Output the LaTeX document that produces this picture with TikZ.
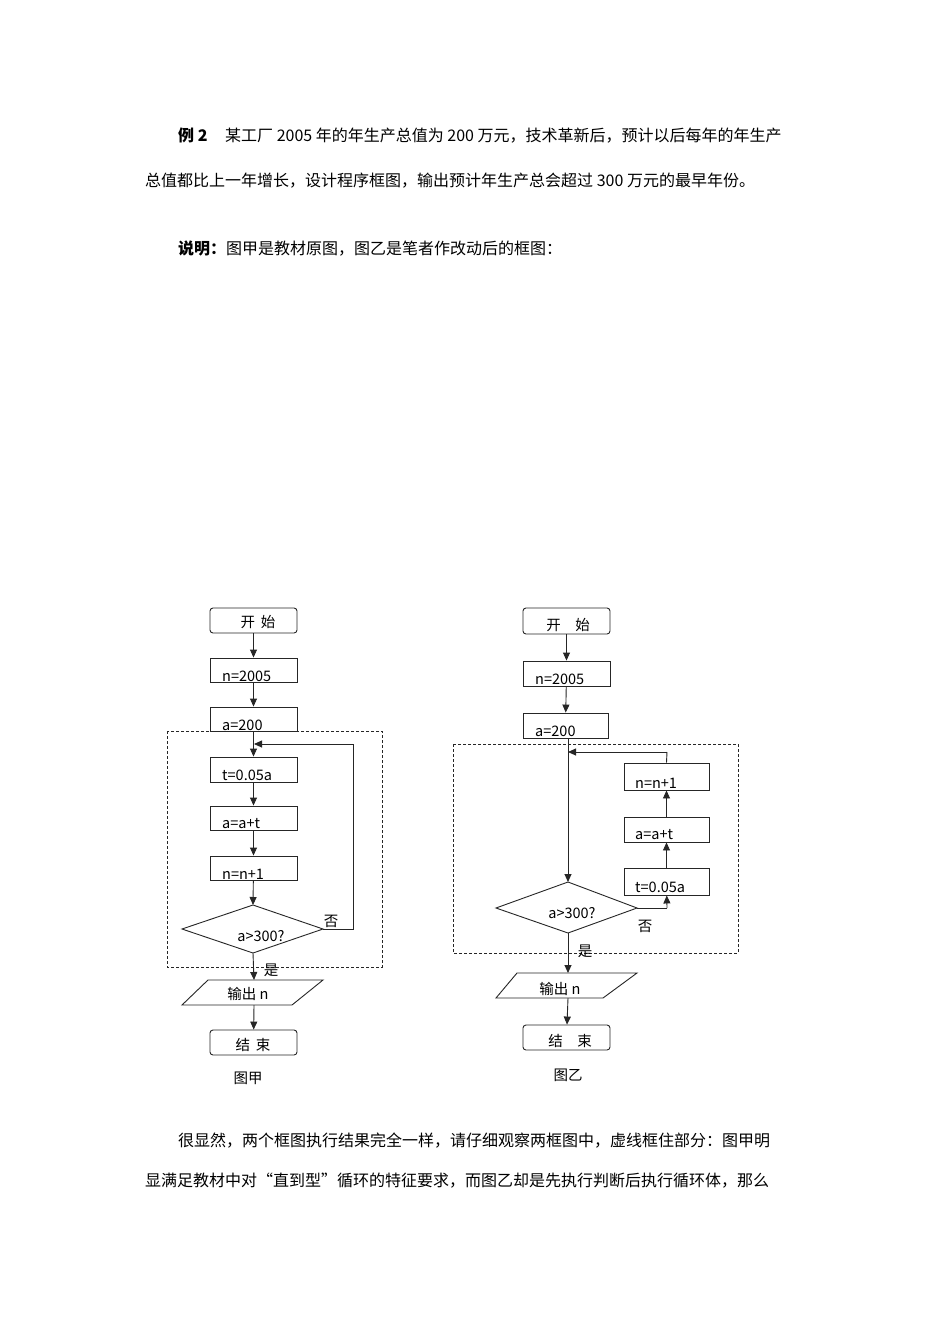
\documentclass[tikz,border=0pt]{standalone}
\usepackage{fontspec}
\setmainfont{Liberation Serif}
\setsansfont{Liberation Sans}
\newfontfamily\cjk{Noto Sans CJK SC}
\usetikzlibrary{arrows.meta,shapes.geometric}
\begin{document}
\begin{tikzpicture}[x=1pt,y=-1pt,
  txt/.style={font=\cjk\fontsize{16}{18}\selectfont,anchor=base west,inner sep=0pt},
  lab/.style={font=\cjk\fontsize{14.5}{16}\selectfont,inner sep=0pt},
  ln/.style={draw=black!85,line width=0.9pt},
  arr/.style={ln,-{Triangle[length=8pt,width=7pt]}},
  dsh/.style={draw=black!85,line width=0.7pt,dash pattern=on 3pt off 2pt}]
\fill[white] (0,0) rectangle (950,1344);
\useasboundingbox (0,0) rectangle (950,1344);
% text
\node[txt] (p1) at (178,141) {\textbf{例 2}\hspace{1.1em}某工厂 2005 年的年生产总值为 200 万元，技术革新后，预计以后每年的年生产};
\node[txt] (p2) at (145,186) {总值都比上一年增长，设计程序框图，输出预计年生产总会超过 300 万元的最早年份。};
\node[txt] (p3) at (178,254) {\textbf{说明：}图甲是教材原图，图乙是笔者作改动后的框图：};
\node[txt] (p4) at (178,1146) {很显然，两个框图执行结果完全一样，请仔细观察两框图中，虚线框住部分：图甲明};
\node[txt] (p5) at (145,1186) {显满足教材中对“直到型”循环的特征要求，而图乙却是先执行判断后执行循环体，那么};
% ===== left chart
\draw[dsh] (167,731) rectangle (382,967);
\node[ln,rounded corners=3pt,minimum width=87pt,minimum height=25pt,inner sep=0pt] (Ls) at (253.5,620.5) {};
\node[lab] at (258,622) {开\,\ 始};
\node[ln,minimum width=87pt,minimum height=24pt] (L1) at (253.5,670) {};
\node[lab,anchor=west] at (222,676) {n=2005};
\node[ln,minimum width=87pt,minimum height=24pt] (L2) at (253.5,719) {};
\node[lab,anchor=west] at (222,725) {a=200};
\node[ln,minimum width=87pt,minimum height=25pt] (L3) at (253.5,769.5) {};
\node[lab,anchor=west] at (222,775) {t=0.05a};
\node[ln,minimum width=87pt,minimum height=24pt] (L4) at (253.5,818) {};
\node[lab,anchor=west] at (222,824) {a=a+t};
\node[ln,minimum width=87pt,minimum height=24pt] (L5) at (253.5,868) {};
\node[lab,anchor=west] at (222,874) {n=n+1};
\draw[ln,fill=white] (253,905) coordinate (Ldt) -- (323,929) coordinate (Ldr) -- (253,953) coordinate (Ldb) -- (182,929) -- cycle;
\node[lab] at (261,936) {a>300?};
\draw[ln] (208,980) coordinate (Lo) -- (323,980) -- (292,1005) -- (182,1005) -- cycle;
\node[lab] at (248,994) {输出 n};
\node[ln,rounded corners=3pt,minimum width=87pt,minimum height=25pt] (Le) at (253.5,1042.5) {};
\node[lab] at (253,1045) {结\,\ 束};
\node[lab] at (248,1078) {图甲};
\coordinate (Lj) at (254,744);
\draw[arr] (Ls) -- (L1);
\draw[arr] (L1) -- (L2);
\draw[arr] (L2) -- (L3);
\draw[arr] (L3) -- (L4);
\draw[arr] (L4) -- (L5);
\draw[arr] (L5) -- (Ldt);
\draw[arr] (Ldb) -- (254,980);
\draw[arr] (254,1005) -- (Le);
\draw[ln] (Ldr) -- (353,929) -- (353,744);
\draw[arr] (353,744) -- (Lj);
\node[lab] at (331,921) {否};
\node[lab] at (271,970) {是};
% ===== right chart
\draw[dsh] (453,744) rectangle (738,953);
\node[ln,rounded corners=3pt,minimum width=87pt,minimum height=26pt,inner sep=0pt] (Rs) at (566.5,621) {};
\node[lab] at (568,625) {开\quad 始};
\node[ln,minimum width=87pt,minimum height=25pt] (R1) at (566.5,673.5) {};
\node[lab,anchor=west] at (535,679) {n=2005};
\node[ln,minimum width=85pt,minimum height=25pt] (R2) at (565.5,725.5) {};
\node[lab,anchor=west] at (535,731) {a=200};
\coordinate (Rj) at (568,752);
\draw[ln,fill=white] (568,882) coordinate (Rdt) -- (637,908) coordinate (Rdr) -- (568,933) coordinate (Rdb) -- (496,908) -- cycle;
\node[lab] at (572,913) {a>300?};
\node[ln,minimum width=85pt,minimum height=27pt] (R5) at (666.5,776.5) {};
\node[lab,anchor=west] at (635,783) {n=n+1};
\node[ln,minimum width=85pt,minimum height=25pt] (R4) at (666.5,829.5) {};
\node[lab,anchor=west] at (635,835) {a=a+t};
\node[ln,minimum width=85pt,minimum height=27pt] (R3) at (666.5,881.5) {};
\node[lab,anchor=west] at (635,887) {t=0.05a};
\draw[ln] (517,973) -- (637,973) -- (603,998) -- (496,998) -- cycle;
\node[lab] at (560,989) {输出 n};
\node[ln,rounded corners=3pt,minimum width=87pt,minimum height=25pt] (Re) at (566.5,1037.5) {};
\node[lab] at (570,1041) {结\quad 束};
\node[lab] at (568,1075) {图乙};
\draw[arr] (Rs) -- (R1);
\draw[arr] (R1) -- (R2);
\draw[arr] (R2.south -| Rj) -- (Rdt);
\draw[ln] (Rdr) -- (667,908);
\draw[arr] (667,908) -- (R3);
\draw[arr] (R3) -- (R4);
\draw[arr] (R4) -- (R5);
\draw[ln] (R5.north) -- (667,752);
\draw[arr] (667,752) -- (Rj);
\draw[arr] (Rdb) -- (568,973);
\draw[arr] (568,998) -- (Re);
\node[lab] at (645,926) {否};
\node[lab] at (585,951) {是};
\end{tikzpicture}
\end{document}
